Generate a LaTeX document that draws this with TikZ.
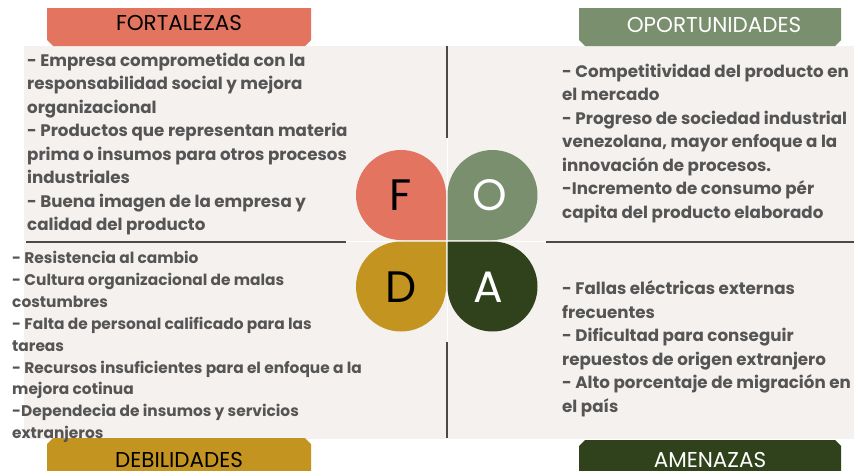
\documentclass[tikz,border=0pt]{standalone}
\usepackage{fontspec}
\setmainfont{Poppins}
\definecolor{fcolor}{HTML}{E27460}
\definecolor{ocolor}{HTML}{7A8F6E}
\definecolor{dcolor}{HTML}{C3941F}
\definecolor{acolor}{HTML}{2F421C}
\definecolor{panel}{HTML}{F4F1EE}
\definecolor{texto}{HTML}{555555}
\definecolor{linea}{HTML}{4A4A4A}

\begin{document}
\begin{tikzpicture}[x=1pt,y=-1pt,
      titulo/.style={font=\fontsize{21.5}{24}\selectfont, inner sep=0pt,
        text height=15pt, text depth=0pt},
      lista/.style={anchor=north west, align=left, inner sep=0pt, text=texto,
        font=\bfseries\fontsize{16.7}{23.5}\selectfont},
      letra/.style={font=\fontsize{44}{44}\selectfont, inner sep=0pt},
      divisor/.style={draw=linea, line width=1.4pt}]
      \useasboundingbox (0,0) rectangle (854,471);
      \fill [white] (0,0) rectangle (854,471);
      \fill [panel] (24,46) rectangle (854,439);
      \draw [white, line width=0.6pt] (447,46) -- (447,439);
      \draw [white, line width=0.6pt] (24,241) -- (854,241);
      % dividers
      \draw [divisor] (447,46) -- (447,138);
      \draw [divisor] (447,342) -- (447,438);
      \draw [divisor] (26,242) -- (346,242);
      \draw [divisor] (546,242) -- (854,242);
      % headers
      \fill [fcolor] (47,8) -- (311,8) -- (311,40) -- (305,46) -- (53,46) -- (47,40) -- cycle;
      \fill [ocolor] (579,8) -- (841,8) -- (841,40) -- (835,46) -- (585,46) -- (579,40) -- cycle;
      \fill [dcolor] (47,471) -- (47,444) -- (53,438) -- (305,438) -- (311,444) -- (311,471) -- cycle;
      \fill [acolor] (579,471) -- (579,446) -- (585,440) -- (835,440) -- (841,446) -- (841,471) -- cycle;
      \node [titulo] (fort) at (179,22.5) {FORTALEZAS};
      \node [titulo, text=white] (opor) at (714,25) {OPORTUNIDADES};
      \node [titulo] (debi) at (179,459.5) {DEBILIDADES};
      \node [titulo, text=white] (amen) at (710,460) {AMENAZAS};
      % petals
      \fill [fcolor] (446,240) -- (446,195) arc [start angle=0, end angle=-270, radius=45] -- cycle;
      \fill [ocolor] (447.5,240) -- (492.5,240) arc [start angle=90, end angle=-180, radius=45] -- cycle;
      \fill [dcolor] (446,241.5) -- (401,241.5) arc [start angle=-90, end angle=-360, radius=45] -- cycle;
      \fill [acolor] (447.5,241.5) -- (447.5,286.5) arc [start angle=180, end angle=-90, radius=45] -- cycle;
      \node [letra] (f) at (401,195) {F};
      \node [letra, text=white] (o) at (490,195) {O};
      \node [letra] (d) at (401,287) {D};
      \node [letra, text=white] (a) at (488,287) {A};
      % lists
      \node [lista] (listaf) at (27,52.5) {- Empresa comprometida con la\\
        responsabilidad social y mejora\\
        organizacional\\
        - Productos que representan materia\\
        prima o insumos para otros procesos\\
        industriales\\
        - Buena imagen de la empresa y\\
        calidad del producto};
      \node [lista] (listao) at (562,63.5) {- Competitividad del producto en\\
        el mercado\\
        - Progreso de sociedad industrial\\
        venezolana, mayor enfoque a la\\
        innovación de procesos.\\
        -Incremento de consumo pér\\
        capita del producto elaborado};
      \node [lista, font=\bfseries\fontsize{15.4}{21.9}\selectfont] (listad) at (12,251) {- Resistencia al cambio\\
        - Cultura organizacional de malas\\
        costumbres\\
        - Falta de personal calificado para las\\
        tareas\\
        - Recursos insuficientes para el enfoque a la\\
        mejora cotinua\\
        -Dependecia de insumos y servicios\\
        extranjeros};
      \node [lista] (listaa) at (562,280.5) {- Fallas eléctricas externas\\
        frecuentes\\
        - Dificultad para conseguir\\
        repuestos de origen extranjero\\
        - Alto porcentaje de migración en\\
        el país};
    \end{tikzpicture}
\end{document}
